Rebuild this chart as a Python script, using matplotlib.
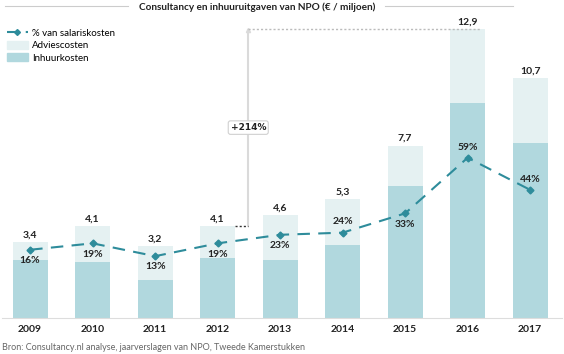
import numpy as np
import matplotlib.pyplot as plt
from matplotlib.lines import Line2D
from matplotlib.patches import Patch

plt.rcParams['font.family'] = ['Lato', 'DejaVu Sans']

jaren = ['2009', '2010', '2011', '2012', '2013', '2014', '2015', '2016', '2017']
totaal = [3.4, 4.1, 3.2, 4.1, 4.6, 5.3, 7.7, 12.9, 10.7]
inhuur = [2.6, 2.5, 1.7, 2.7, 2.6, 3.25, 5.9, 9.6, 7.8]
advies = [t - i for t, i in zip(totaal, inhuur)]
pct = [16, 19, 13, 19, 23, 24, 33, 59, 44]
# boven (+1) of onder (-1) de marker
pct_pos = [-1, -1, -1, -1, -1, 1, -1, 1, 1]

c_inhuur = '#B1D8DE'
c_advies = '#E5F1F2'
c_lijn = '#2E8C9B'

fig = plt.figure(figsize=(5.64, 3.54), dpi=100)
W, H = 564, 354
y0, y1 = 318, 20
ax = fig.add_axes([2 / W, (H - y0) / H, 560 / W, (y0 - y1) / H])

x = np.arange(len(jaren))
ax.bar(x, inhuur, width=0.56, color=c_inhuur)
ax.bar(x, advies, width=0.56, bottom=inhuur, color=c_advies)

ymax = (y0 - y1) / 22.4
ax.set_ylim(0, ymax)
ax.set_xlim(-0.45, 8.51)

for xi, t in zip(x, totaal):
    ax.text(xi, t + 0.12, f'{t:.1f}'.replace('.', ','), ha='center', va='bottom',
            fontsize=7.5, fontweight='bold', color='#222222')

# lijn op tweede as
ax2 = ax.twinx()
ax2.set_ylim((0 - 34) / 2.14, (22.4 * ymax - 34) / 2.14)
ax2.plot(x, pct, color=c_lijn, lw=1.5, ls=(0, (6, 4)), marker='D', ms=3.5)
for xi, p, pos in zip(x, pct, pct_pos):
    ax2.text(xi, p + pos * 5.0, f'{p}%', ha='center', va='center',
             fontsize=7.5, fontweight='bold', color='#222222')

# annotatie +214%
ax.plot([3.49, 3.49], [4.1, 12.85], color='#DADADA', lw=1.5)
ax.plot([3.49], [12.85], marker='^', color='#DADADA', ms=3)
ax.plot([3.49, 7.2], [12.9, 12.9], color='#BBBBBB', lw=1, ls=(0, (1.5, 1.5)))
ax.plot([3.28, 3.49], [4.1, 4.1], color='#333333', lw=1, ls=(0, (1.5, 1.5)))
ax.text(3.49, 8.5, '+214%', ha='center', va='center', fontsize=6.5, fontweight='bold',
        color='#222222', family='DejaVu Sans',
        bbox=dict(boxstyle='round,pad=0.25', fc='white', ec='#D0D0D0', lw=0.8))

for a in (ax, ax2):
    for s in a.spines.values():
        s.set_visible(False)
    a.set_yticks([])
ax.spines['bottom'].set_visible(True)
ax.spines['bottom'].set_color('#DDDDDD')
ax.set_xticks(x)
ax.set_xticklabels(jaren, fontsize=7.5, fontweight='bold', color='#222222')
ax.tick_params(axis='x', length=0, pad=5)

# legenda
handles = [Line2D([0], [0], color=c_lijn, lw=1.5, ls=(0, (6, 3)), marker='D', ms=3),
           Patch(color=c_advies), Patch(color=c_inhuur)]
labels = ['% van salariskosten', 'Adviescosten', 'Inhuurkosten']
fig.legend(handles, labels, loc='upper left', bbox_to_anchor=(0.005, 0.93), frameon=False,
           fontsize=7, handlelength=2.2, handleheight=0.9, labelspacing=0.3,
           handletextpad=0.4, borderaxespad=0)

# titel met lijnen
fig.text(257 / W, 1 - 7 / H, 'Consultancy en inhuuruitgaven van NPO (€ / miljoen)',
         ha='center', va='center', fontsize=7.2, fontweight='bold', color='#222222')
fig.add_artist(Line2D([5 / W, 128 / W], [1 - 6 / H] * 2, color='#CCCCCC', lw=0.8))
fig.add_artist(Line2D([385 / W, 513 / W], [1 - 6 / H] * 2, color='#CCCCCC', lw=0.8))

fig.text(2 / W, 1 - 347 / H, 'Bron: Consultancy.nl analyse, jaarverslagen van NPO, Tweede Kamerstukken',
         ha='left', va='center', fontsize=6.5, color='#666666')

fig.savefig('out.png', dpi=100)
